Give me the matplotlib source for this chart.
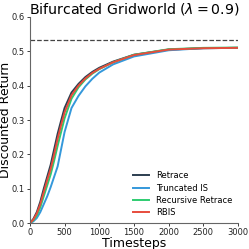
import matplotlib
matplotlib.use("Agg")
import matplotlib.pyplot as plt

timesteps = [0, 50, 100, 150, 200, 250, 300, 350, 400, 450, 500, 600, 700, 800, 900, 1000, 1200, 1500, 2000, 2500, 3000]
retrace = [0, 0.012, 0.032, 0.062, 0.100, 0.135, 0.170, 0.215, 0.260, 0.298, 0.335, 0.380, 0.405, 0.425, 0.440, 0.452, 0.470, 0.490, 0.505, 0.509, 0.510]
truncated_is = [0, 0.005, 0.015, 0.032, 0.055, 0.078, 0.105, 0.135, 0.165, 0.215, 0.265, 0.335, 0.370, 0.398, 0.420, 0.438, 0.462, 0.485, 0.503, 0.509, 0.510]
recursive_retrace = [0, 0.008, 0.022, 0.046, 0.078, 0.110, 0.142, 0.182, 0.225, 0.265, 0.305, 0.362, 0.395, 0.418, 0.435, 0.448, 0.468, 0.490, 0.506, 0.510, 0.511]
rbis = [0, 0.010, 0.028, 0.055, 0.090, 0.125, 0.158, 0.200, 0.245, 0.285, 0.322, 0.372, 0.400, 0.421, 0.437, 0.449, 0.468, 0.489, 0.505, 0.509, 0.510]
optimal = 0.533

series = [("Retrace", retrace, "#2c3e50"),
          ("Truncated IS", truncated_is, "#3498db"),
          ("Recursive Retrace", recursive_retrace, "#2ecc71"),
          ("RBIS", rbis, "#e74c3c")]

fig = plt.figure(figsize=(2.49, 2.49), dpi=100)
ax = fig.add_axes([0.12, 0.104, 0.836, 0.828])
for name, vals, c in series:
    ax.plot(timesteps, vals, color=c, lw=1.4, label=name)
ax.axhline(optimal, color="#444444", ls="--", lw=0.9)

ax.set_xlim(0, 3000)
ax.set_ylim(0, 0.6)
ax.set_xticks([0, 500, 1000, 1500, 2000, 2500, 3000])
ax.set_yticks([0, 0.1, 0.2, 0.3, 0.4, 0.5, 0.6])
ax.tick_params(labelsize=6, length=2.5, width=0.6, pad=1, colors="#222222")
for s in ["top", "right"]:
    ax.spines[s].set_visible(False)
for s in ["left", "bottom"]:
    ax.spines[s].set_color("#666666")
    ax.spines[s].set_linewidth(0.8)
ax.set_xlabel("Timesteps", fontsize=9, labelpad=0)
ax.set_ylabel("Discounted Return", fontsize=9, labelpad=0)
ax.set_title(r"Bifurcated Gridworld ($\lambda = 0.9$)", fontsize=10.2, pad=1)
ax.legend(loc="lower right", frameon=False, fontsize=6, handlelength=1.9, labelspacing=0.4,
          borderaxespad=0.3, bbox_to_anchor=(1.0, 0.0))
fig.savefig("out.png", dpi=100)
